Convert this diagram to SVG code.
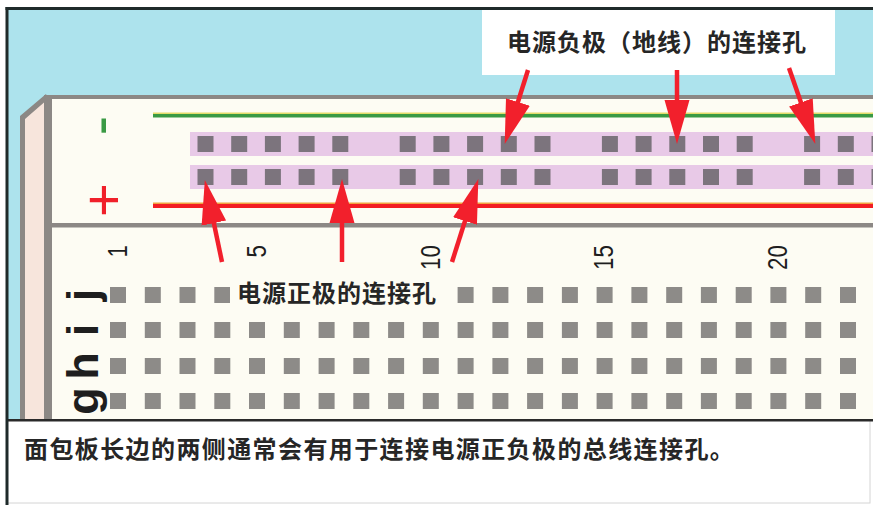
<svg xmlns="http://www.w3.org/2000/svg" xmlns:xlink="http://www.w3.org/1999/xlink" width="873" height="505" viewBox="0 0 873 505">
  <style>
    .cjk { font-family: "Noto Sans CJK SC", "Noto Sans", sans-serif; font-weight: 700; font-size: 24px; letter-spacing: 1px; fill: #262626; }
    .caption { letter-spacing: 1.4px; }
    .num { font-family: "Liberation Sans", Arial, sans-serif; font-size: 28px; fill: #1e1e1e; }
    .row { font-family: "Liberation Sans", Arial, sans-serif; font-weight: 700; font-size: 45px; fill: #1e1e1e; }
    .sign { font-family: "Liberation Sans", Arial, sans-serif; font-size: 58px; }
    .hole { fill: #8d8b88; }
    .bushole { fill: #7c747d; }
    .edge { fill: #8c8885; }
    .arrow { stroke: #f2202c; stroke-width: 4.5; fill: none; marker-end: url(#head); }
  </style>
  <defs>
    <marker id="head" markerUnits="userSpaceOnUse" markerWidth="46" markerHeight="28" refX="33" refY="13" orient="auto">
      <path d="M0,0.5 L44,13 L0,25.5 Z" fill="#f2202c"/>
    </marker>
    <!-- one row of terminal-strip holes, 22 columns -->
    <g id="holeRow">
      <rect class="hole" x="110" y="0" width="16" height="16"/>
      <rect class="hole" x="144.8" y="0" width="16" height="16"/>
      <rect class="hole" x="179.5" y="0" width="16" height="16"/>
      <rect class="hole" x="214.3" y="0" width="16" height="16"/>
      <rect class="hole" x="249" y="0" width="16" height="16"/>
      <rect class="hole" x="283.8" y="0" width="16" height="16"/>
      <rect class="hole" x="318.6" y="0" width="16" height="16"/>
      <rect class="hole" x="353.3" y="0" width="16" height="16"/>
      <rect class="hole" x="388.1" y="0" width="16" height="16"/>
      <rect class="hole" x="422.8" y="0" width="16" height="16"/>
      <rect class="hole" x="457.6" y="0" width="16" height="16"/>
      <rect class="hole" x="492.4" y="0" width="16" height="16"/>
      <rect class="hole" x="527.1" y="0" width="16" height="16"/>
      <rect class="hole" x="561.9" y="0" width="16" height="16"/>
      <rect class="hole" x="596.6" y="0" width="16" height="16"/>
      <rect class="hole" x="631.4" y="0" width="16" height="16"/>
      <rect class="hole" x="666.2" y="0" width="16" height="16"/>
      <rect class="hole" x="700.9" y="0" width="16" height="16"/>
      <rect class="hole" x="735.7" y="0" width="16" height="16"/>
      <rect class="hole" x="770.4" y="0" width="16" height="16"/>
      <rect class="hole" x="805.2" y="0" width="16" height="16"/>
      <rect class="hole" x="840" y="0" width="16" height="16"/>
    </g>
    <!-- one row of power-rail holes, groups of five -->
    <g id="busRow">
      <rect class="bushole" x="197.5" y="0" width="16" height="16"/>
      <rect class="bushole" x="231.2" y="0" width="16" height="16"/>
      <rect class="bushole" x="264.9" y="0" width="16" height="16"/>
      <rect class="bushole" x="298.6" y="0" width="16" height="16"/>
      <rect class="bushole" x="332.3" y="0" width="16" height="16"/>
      <rect class="bushole" x="399.7" y="0" width="16" height="16"/>
      <rect class="bushole" x="433.4" y="0" width="16" height="16"/>
      <rect class="bushole" x="467.1" y="0" width="16" height="16"/>
      <rect class="bushole" x="500.8" y="0" width="16" height="16"/>
      <rect class="bushole" x="534.5" y="0" width="16" height="16"/>
      <rect class="bushole" x="601.9" y="0" width="16" height="16"/>
      <rect class="bushole" x="635.6" y="0" width="16" height="16"/>
      <rect class="bushole" x="669.3" y="0" width="16" height="16"/>
      <rect class="bushole" x="703" y="0" width="16" height="16"/>
      <rect class="bushole" x="736.7" y="0" width="16" height="16"/>
      <rect class="bushole" x="804.1" y="0" width="16" height="16"/>
      <rect class="bushole" x="837.8" y="0" width="16" height="16"/>
      <rect class="bushole" x="871.5" y="0" width="16" height="16"/>
    </g>
  </defs>

  <!-- page and frame -->
  <rect x="0" y="0" width="873" height="505" fill="#ffffff"/>
  <rect x="7" y="9" width="866" height="411" fill="#ade3ed"/>

  <!-- breadboard body -->
  <g id="breadboard">
    <polygon points="22,117 47,96 47,420 22,420" fill="#f7e5dc"/>
    <polygon points="20,116 46,94 48,99 25,119 25,420 20,420" class="edge"/>
    <rect x="47" y="95" width="826" height="325" fill="#fdfcf3"/>
    <rect x="44" y="95" width="829" height="4" class="edge"/>
    <rect x="44" y="95" width="8" height="325" class="edge"/>
    <rect x="52" y="223" width="821" height="4.5" class="edge"/>
  </g>

  <!-- power rails -->
  <g id="power-rails">
    <rect x="153" y="112.5" width="720" height="1.5" fill="#e3dc6a"/>
    <rect x="153" y="114" width="720" height="3.5" fill="#3a9a44"/>
    <rect x="190" y="132" width="683" height="24" fill="#e8c9e7"/>
    <rect x="190" y="165" width="683" height="24" fill="#e8c9e7"/>
    <use xlink:href="#busRow" y="136"/>
    <use xlink:href="#busRow" y="169"/>
    <rect x="153" y="202.5" width="720" height="1.5" fill="#f2a040"/>
    <rect x="153" y="204" width="720" height="4" fill="#f31c22"/>
    <text class="sign" fill="#3a9a44" text-anchor="middle" transform="translate(119,125.5) rotate(-90)">-</text>
    <text class="sign" fill="#f0202a" text-anchor="middle" transform="translate(123,200) rotate(-90)">+</text>
  </g>

  <!-- terminal strip -->
  <g id="terminal-strip">
    <use xlink:href="#holeRow" y="287"/>
    <use xlink:href="#holeRow" y="322"/>
    <use xlink:href="#holeRow" y="358"/>
    <use xlink:href="#holeRow" y="393"/>
    <text class="num" text-anchor="end" transform="translate(127,245) rotate(-90) scale(0.8,1)">1</text>
    <text class="num" text-anchor="end" transform="translate(266,245) rotate(-90) scale(0.8,1)">5</text>
    <text class="num" text-anchor="end" transform="translate(440,245) rotate(-90) scale(0.8,1)">10</text>
    <text class="num" text-anchor="end" transform="translate(613,245) rotate(-90) scale(0.8,1)">15</text>
    <text class="num" text-anchor="end" transform="translate(787,245) rotate(-90) scale(0.8,1)">20</text>
    <text class="row" text-anchor="middle" transform="translate(98,295) rotate(-90)">j</text>
    <text class="row" text-anchor="middle" transform="translate(98,330) rotate(-90)">i</text>
    <text class="row" text-anchor="middle" transform="translate(98,366) rotate(-90)">h</text>
    <text class="row" text-anchor="middle" transform="translate(98,401) rotate(-90)">g</text>
  </g>

  <!-- callout: negative rail -->
  <g id="label-negative">
    <rect x="482" y="10" width="353" height="65" fill="#ffffff"/>
    <text class="cjk" x="507" y="51">电源负极（地线）的连接孔</text>
  </g>

  <!-- callout: positive rail -->
  <g id="label-positive">
    <rect x="230" y="279" width="220" height="32" fill="#fdfcf3"/>
    <text class="cjk" x="237" y="302">电源正极的连接孔</text>
  </g>

  <!-- arrows -->
  <g id="connectors">
    <line class="arrow" x1="528" y1="70" x2="508" y2="133.5"/>
    <line class="arrow" x1="677" y1="70" x2="677" y2="133"/>
    <line class="arrow" x1="789" y1="68" x2="811.7" y2="133.6"/>
    <line class="arrow" x1="222" y1="262" x2="207.1" y2="190.8"/>
    <line class="arrow" x1="342" y1="262" x2="342" y2="190"/>
    <line class="arrow" x1="452" y1="262" x2="475" y2="189.5"/>
  </g>

  <!-- caption panel -->
  <g id="caption">
    <rect x="7" y="420" width="863" height="83" fill="#ffffff" stroke="#d4d4d4" stroke-width="1"/>
    <rect x="6" y="419" width="867" height="2.5" fill="#2a2a2a"/>
    <text class="cjk caption" x="24" y="458">面包板长边的两侧通常会有用于连接电源正负极的总线连接孔。</text>
  </g>

  <!-- outer frame lines -->
  <rect x="5.5" y="7" width="867.5" height="3" fill="#1f2a2a"/>
  <rect x="5.5" y="7" width="3" height="498" fill="#1f2a2a"/>
</svg>
